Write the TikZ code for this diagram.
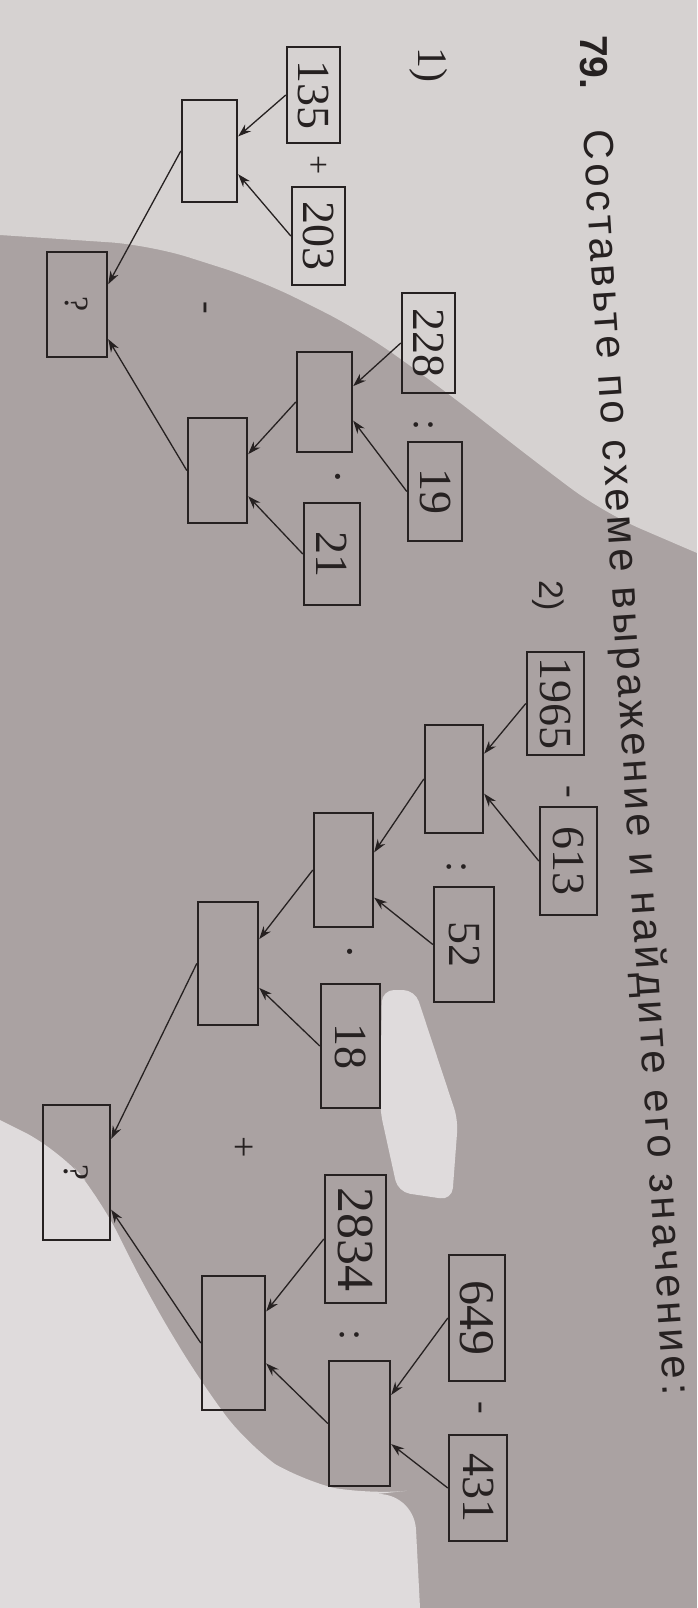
\documentclass[tikz,border=0pt]{standalone}
\usepackage{fontspec}
\setmainfont{Liberation Serif}
\newfontfamily\headfont{Liberation Sans}
\newfontfamily\titlefont[LetterSpace=9.0]{Liberation Sans}
\usetikzlibrary{arrows.meta}

\definecolor{ink}{RGB}{38,33,33}
\definecolor{paperlight}{RGB}{214,210,209}
\definecolor{papershadow}{RGB}{170,162,162}
\definecolor{paperbright}{RGB}{223,219,220}

\tikzset{
  numbox/.style n args={2}{draw=ink, line width=2.4pt, rotate=-90, inner sep=0pt,
    minimum width=#1pt, minimum height=#2pt, text=ink,
    font=\fontsize{46}{46}\selectfont},
  opsign/.style={rotate=-90, inner sep=0pt, text=ink,
    font=\fontsize{34}{34}\selectfont},
  flow/.style={draw=ink, line width=1.3pt, -{Stealth[length=13pt, width=9pt]}},
}

\begin{document}
\begin{tikzpicture}[x=1pt, y=-1pt]

  % фон фотографии: тень и светлые места
  \fill[papershadow] (0,0) rectangle (697,1608);
  \fill[paperlight] (0,0) -- (697,0) -- (697,553) [rounded corners=40pt] -- (604,513)
    -- (537,463) -- (444,390) -- (360,330) -- (260,280) -- (150,245) [sharp corners] -- (0,235) -- cycle;
  \fill[paperbright] (0,1120) [rounded corners=40pt] -- (60,1150) -- (100,1198) -- (150,1298)
    -- (200,1381) -- (250,1448) -- (300,1481) -- (367,1495) -- (414,1490) [sharp corners]
    -- (420,1608) -- (0,1608) -- cycle;
  \fill[paperbright, rounded corners=12pt] (382,990) -- (415,990) -- (458,1120)
    -- (452,1200) -- (398,1192) -- (380,1110) -- cycle;
  \useasboundingbox (0,0) rectangle (697,1608);

  % заголовок задания
  \node[anchor=base west, rotate=-90, inner sep=0pt, text=ink,
    font=\headfont\bfseries\fontsize{39}{39}\selectfont] (num) at (580,35) {79.};
  \node[anchor=base west, rotate=-86.35, inner sep=0pt, text=ink,
    font=\titlefont\fontsize{42}{42}\selectfont] (title) at (583,130)
    {Составьте по схеме выражение и найдите его значение:};

  % ---- схема 1) ----
  \node[anchor=base west, rotate=-90, inner sep=0pt, text=ink,
    font=\fontsize{42}{42}\selectfont] (part1) at (418,47) {1)};

  \node[numbox={96}{53}]  (b135)  at (313.5,95)    {135};
  \node[numbox={98}{53}]  (b203)  at (318.5,236)   {203};
  \node[numbox={102}{55}] (sum1)  at (209.5,151)   {};
  \node[numbox={100}{53}] (b228)  at (428.5,343)   {228};
  \node[numbox={99}{54}]  (b19)   at (435,491.5)   {19};
  \node[numbox={100}{55}] (quo1)  at (324.5,402)   {};
  \node[numbox={102}{56}] (b21)   at (332,554)     {21};
  \node[numbox={105}{59}] (prod1) at (217.5,470.5) {};
  \node[numbox={105}{60}, font=\fontsize{34}{34}\selectfont] (ans1) at (77,304.5) {?};

  % знаки действий
  \node[opsign] (plus1)  at (317,165) {+};
  \node[opsign, font=\fontsize{38}{38}\selectfont] (minus1) at (202,308) {-};
  \node[opsign, font=\fontsize{40}{40}\selectfont] (div1) at (424,425) {:};
  \node[opsign, font=\fontsize{44}{44}\selectfont] (mul1) at (332,477) {·};

  % стрелки
  \draw[flow] (b135.south) -- (sum1.117);
  \draw[flow] (b203.south) -- (sum1.51);
  \draw[flow] (sum1.south) -- (ans1.123);
  \draw[flow] (prod1.south) -- (ans1.42);
  \draw[flow] (b228.south) -- (quo1.119);
  \draw[flow] (b19.south) -- (quo1.57);
  \draw[flow] (quo1.south) -- (prod1.118);
  \draw[flow] (b21.south) -- (prod1.50);

  % ---- схема 2) ----
  \node[anchor=base west, rotate=-90, inner sep=0pt, text=ink,
    font=\headfont\fontsize{34}{34}\selectfont] (part2) at (539,580) {2)};

  \node[numbox={103}{57}] (b1965) at (555.5,703.5)  {1965};
  \node[numbox={108}{57}] (b613)  at (568.5,861)    {613};
  \node[numbox={108}{58}] (dif2)  at (454,779)      {};
  \node[numbox={115}{60}] (b52)   at (464,944.5)    {52};
  \node[numbox={114}{59}] (quo2)  at (343.5,870)    {};
  \node[numbox={124}{59}] (b18)   at (350.5,1046)   {18};
  \node[numbox={123}{60}] (prod2) at (228,963.5)    {};
  \node[numbox={135}{67}, font=\fontsize{36}{36}\selectfont] (ans2) at (76.5,1172.5) {?};
  \node[numbox={128}{61}, font=\fontsize{52}{52}\selectfont] (b2834) at (355.5,1239) {2834};
  \node[numbox={134}{63}] (quo3)  at (233.5,1343)   {};
  \node[numbox={126}{56}, font=\fontsize{50}{50}\selectfont] (b649) at (477,1318) {649};
  \node[numbox={106}{58}] (b431)  at (478,1488)     {431};
  \node[numbox={125}{61}] (dif3)  at (359.5,1423.5) {};

  % знаки действий
  \node[opsign, font=\fontsize{38}{38}\selectfont] (minus2) at (565,792) {-};
  \node[opsign, font=\fontsize{40}{40}\selectfont] (div2) at (457,867) {:};
  \node[opsign, font=\fontsize{44}{44}\selectfont] (mul2) at (344,952) {·};
  \node[opsign, font=\fontsize{38}{38}\selectfont] (plus2) at (242,1147) {+};
  \node[opsign, font=\fontsize{40}{40}\selectfont] (div3) at (350,1335) {:};
  \node[opsign, font=\fontsize{38}{38}\selectfont] (minus3) at (477,1408) {-};

  % стрелки
  \draw[flow] (b1965.south) -- (dif2.130);
  \draw[flow] (b613.south) -- (dif2.64);
  \draw[flow] (dif2.south) -- (quo2.120);
  \draw[flow] (b52.south) -- (quo2.48);
  \draw[flow] (quo2.south) -- (prod2.128);
  \draw[flow] (b18.south) -- (prod2.52);
  \draw[flow] (prod2.south) -- (ans2.134);
  \draw[flow] (quo3.south) -- (ans2.43);
  \draw[flow] (b2834.south) -- (quo3.134);
  \draw[flow] (dif3.south) -- (quo3.58);
  \draw[flow] (b649.south) -- (dif3.132);
  \draw[flow] (b431.south) -- (dif3.57);

\end{tikzpicture}
\end{document}
